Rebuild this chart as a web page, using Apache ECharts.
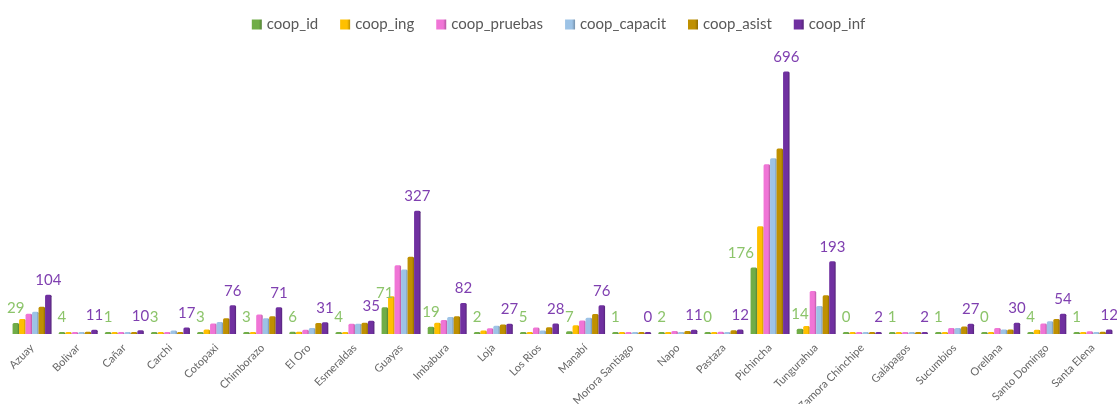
<!DOCTYPE html>
<html>
<head>
<meta charset="utf-8">
<script src="https://cdn.jsdelivr.net/npm/echarts@6/dist/echarts.min.js"></script>
<style>html,body{margin:0;padding:0;background:#fff}#c{width:1117px;height:404px}</style>
</head>
<body>
<div id="c"></div>
<script>
const categories = ["Azuay","Bolivar","Cañar","Carchi","Cotopaxi","Chimborazo","El Oro","Esmeraldas","Guayas","Imbabura","Loja","Los Rios","Manabí","Morora Santiago","Napo","Pastaza","Pichincha","Tungurahua","Zamora Chinchipe","Galápagos","Sucumbios","Orellana","Santo Domingo","Santa Elena"];
const coop_id       = [29,4,1,3,3,3,6,4,71,19,2,5,7,1,2,0,176,14,0,1,1,0,4,1];
const coop_ing      = [40,1,1,1,12,3,6,4,100,30,9,2,23,0,1,2,286,21,1,1,4,2,11,1];
const coop_pruebas  = [54,4,4,4,28,52,11,27,182,37,15,17,36,1,8,6,450,114,1,1,16,16,28,7];
const coop_capacit  = [59,3,4,9,32,42,16,27,171,45,22,9,43,1,5,3,466,74,1,1,16,12,34,4];
const coop_asist    = [72,6,4,4,42,47,29,30,205,47,25,18,53,1,8,10,492,103,1,2,20,12,40,6];
const coop_inf      = [104,11,10,17,76,71,31,35,327,82,27,28,76,0,11,12,696,193,2,2,27,30,54,12];

const names = ["coop_id","coop_ing","coop_pruebas","coop_capacit","coop_asist","coop_inf"];
const values = [coop_id, coop_ing, coop_pruebas, coop_capacit, coop_asist, coop_inf];
const colors = ["#70AD47","#FFC000","#F075D6","#9DC3E6","#BF9000","#7030A0"];
const labelColors = ["#8CC46A", null, null, null, null, "#7F3FB0"];

function shade(hex, f){
  const n = parseInt(hex.slice(1),16);
  let r=(n>>16)&255,g=(n>>8)&255,b=n&255;
  r=Math.round(r*f);g=Math.round(g*f);b=Math.round(b*f);
  return 'rgb('+r+','+g+','+b+')';
}

const series = names.map((nm,i)=>{
  let data = values[i];
  if (i === 0) {
    // move the label left when the neighbouring (taller) bar would cover it
    data = values[0].map((v,j)=> (coop_ing[j] - v > 60)
      ? {value: v, label: {offset: [-13, 0]}} : v);
  }
  return {
    name: nm,
    type: 'bar',
    data: data,
    barWidth: 6.5,
    barGap: '0%',
    barMinHeight: 2,
    zlevel: labelColors[i] ? 1 : 0,
    itemStyle: {
      color: new echarts.graphic.LinearGradient(0,0,1,0,[
        {offset:0,color:colors[i]},{offset:0.7,color:colors[i]},{offset:1,color:shade(colors[i],0.75)}
      ]),
      borderRadius:[1.5,1.5,0,0]
    },
    label: labelColors[i] ? {
      show: true, position: 'top', distance: 7,
      color: labelColors[i], fontSize: 15, fontFamily: 'Lato'
    } : {show:false}
  };
});

const chart = echarts.init(document.getElementById('c'), null, {renderer:'canvas'});
chart.setOption({
  animation: false,
  textStyle: {fontFamily: 'Lato'},
  color: colors,
  legend: {
    top: 12, left: 'center', itemWidth: 10, itemHeight: 10, itemGap: 22,
    icon: 'rect',
    textStyle: {color:'#595959', fontSize: 15, fontFamily: 'Lato'},
    data: names
  },
  grid: {left: 9, right: 1, top: 70, bottom: 70, containLabel: false, outerBoundsMode: 'none'},
  xAxis: {
    type: 'category', data: categories,
    axisLine: {show:false}, axisTick: {show:false},
    axisLabel: {rotate: 45, color:'#666666', fontSize: 11, fontFamily:'Lato', interval: 0, margin: 12}
  },
  yAxis: {type:'value', min:0, max:700, show:false, splitLine:{show:false}},
  series: series
});
</script>
</body>
</html>
